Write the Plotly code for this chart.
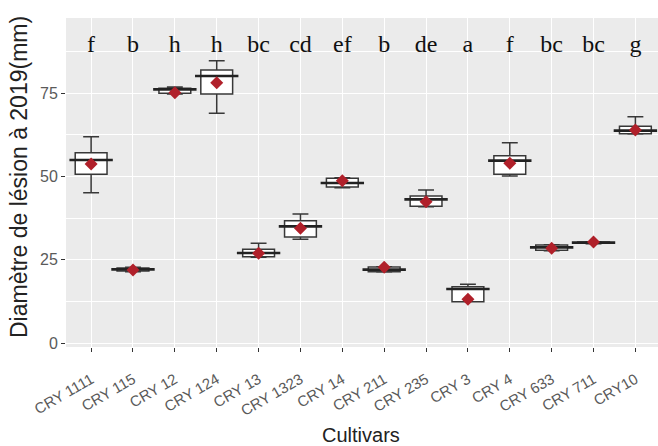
import plotly.graph_objects as go

cultivars = ["CRY 1111", "CRY 115", "CRY 12", "CRY 124", "CRY 13", "CRY 1323", "CRY 14",
             "CRY 211", "CRY 235", "CRY 3", "CRY 4", "CRY 633", "CRY 711", "CRY10"]
letters = ["f", "b", "h", "h", "bc", "cd", "ef", "b", "de", "a", "f", "bc", "bc", "g"]
q1 = [50.6, 21.6, 74.9, 74.7, 25.9, 31.8, 46.8, 21.4, 41.0, 12.4, 50.6, 27.8, 29.9, 62.8]
median = [54.9, 22.1, 76.1, 80.1, 27.0, 35.0, 48.0, 22.0, 43.1, 16.2, 54.7, 28.7, 30.1, 63.7]
q3 = [57.1, 22.5, 76.4, 81.9, 28.1, 36.7, 49.4, 22.8, 44.1, 16.9, 56.2, 29.4, 30.3, 65.0]
lower = [45.1, 21.4, 74.7, 68.9, 25.7, 31.1, 46.6, 21.3, 40.9, 12.4, 50.1, 27.7, 29.8, 62.7]
upper = [61.9, 22.7, 76.8, 84.7, 29.9, 38.7, 49.6, 22.9, 45.9, 17.6, 60.1, 29.5, 30.4, 67.9]
means = [53.7, 21.9, 75.1, 78.1, 26.9, 34.4, 48.7, 22.7, 42.4, 13.1, 53.9, 28.4, 30.3, 63.9]
letter_y = [89.0] * len(cultivars)

fig = go.Figure()
fig.add_trace(go.Box(
    x=cultivars, q1=q1, median=median, q3=q3, lowerfence=lower, upperfence=upper,
    width=0.76, fillcolor="white", line=dict(color="#383838", width=1.5),
    boxpoints=False, showlegend=False, hoverinfo="skip"))
fig.add_trace(go.Scatter(
    x=cultivars, y=median, mode="markers",
    marker=dict(symbol="line-ew", size=31, line=dict(color="#222222", width=2.6)),
    showlegend=False, hoverinfo="skip"))
fig.add_trace(go.Scatter(
    x=cultivars, y=means, mode="markers",
    marker=dict(symbol="diamond", size=10, color="#B0202A"),
    showlegend=False, hoverinfo="skip"))
fig.add_trace(go.Scatter(
    x=cultivars, y=letter_y, mode="text", text=letters,
    textfont=dict(family="Liberation Serif", size=24, color="#111111"),
    showlegend=False, hoverinfo="skip"))

fig.update_layout(
    width=658, height=446,
    margin=dict(l=66, r=0, t=18, b=99),
    paper_bgcolor="white", plot_bgcolor="#EBEBEB",
    font=dict(family="Liberation Sans"),
    annotations=[
        dict(text="Diamètre de lésion à 2019(mm)", textangle=-90, xref="paper", yref="paper",
             x=(19 - 66) / 592, y=(347 - 177) / 329, xanchor="center", yanchor="middle",
             showarrow=False, font=dict(size=23, color="#222222")),
        dict(text="Cultivars", xref="paper", yref="paper",
             x=(361 - 66) / 592, y=(347 - 435) / 329, xanchor="center", yanchor="middle",
             showarrow=False, font=dict(size=20, color="#222222")),
    ],
)
fig.update_xaxes(
    type="category", range=[-0.6, 13.54], showgrid=True, gridcolor="white", gridwidth=1.3,
    ticks="outside", ticklen=4, tickcolor="#333333", tickwidth=1.2, ticklabelstandoff=13,
    tickangle=-30, tickfont=dict(size=15, color="#5a5a5a"), zeroline=False, showline=False)
fig.update_yaxes(
    range=[-1.2, 97.5], tickvals=[0, 25, 50, 75], showgrid=True, gridcolor="white", gridwidth=1.3,
    minor=dict(tickvals=[12.5, 37.5, 62.5, 87.5], showgrid=True, gridcolor="white", gridwidth=0.6),
    ticks="outside", ticklen=4, tickcolor="#333333", tickwidth=1.2,
    tickfont=dict(size=16, color="#5a5a5a"), zeroline=False, showline=False)

fig.write_html("out.html")
